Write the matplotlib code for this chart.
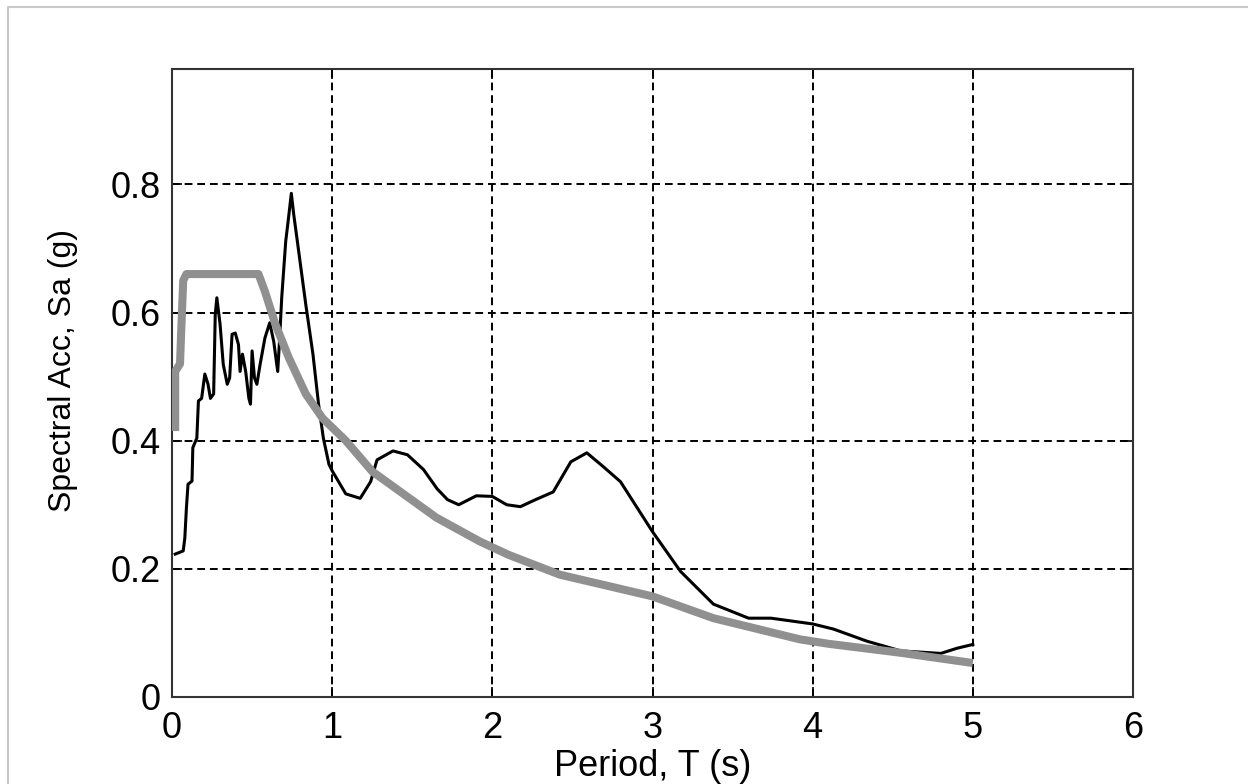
import matplotlib
matplotlib.use("Agg")
import matplotlib.pyplot as plt
from matplotlib.lines import Line2D

plt.rcParams['font.family'] = ['Liberation Sans', 'DejaVu Sans']

# recorded response spectrum (black)
t_rec = [0.02, 0.07, 0.08, 0.09, 0.10, 0.125, 0.13, 0.155, 0.165, 0.185, 0.205, 0.225,
         0.24, 0.26, 0.27, 0.28, 0.30, 0.32, 0.345, 0.36, 0.375, 0.395, 0.415, 0.425,
         0.44, 0.46, 0.48, 0.49, 0.50, 0.515, 0.53, 0.55, 0.58, 0.61, 0.635, 0.66,
         0.67, 0.685, 0.71, 0.73, 0.745, 0.76, 0.78, 0.835, 0.88, 0.915, 0.945, 0.98,
         1.0, 1.085, 1.175, 1.24, 1.28, 1.38, 1.47, 1.57, 1.655, 1.72, 1.79, 1.9,
         2.0, 2.09, 2.175, 2.27, 2.38, 2.49, 2.59, 2.69, 2.8, 3.0, 3.175, 3.38,
         3.6, 3.74, 4.0, 4.13, 4.34, 4.55, 4.8, 4.9, 5.0]
sa_rec = [0.223, 0.228, 0.248, 0.295, 0.332, 0.337, 0.389, 0.404, 0.462, 0.466, 0.504, 0.488,
          0.466, 0.473, 0.597, 0.623, 0.582, 0.519, 0.488, 0.498, 0.566, 0.568, 0.55, 0.508,
          0.535, 0.508, 0.466, 0.457, 0.54, 0.498, 0.488, 0.519, 0.56, 0.584, 0.555, 0.508,
          0.55, 0.623, 0.711, 0.753, 0.786, 0.753, 0.716, 0.613, 0.535, 0.457, 0.404, 0.363,
          0.353, 0.317, 0.31, 0.336, 0.37, 0.384, 0.378, 0.355, 0.325, 0.308, 0.30, 0.314,
          0.313, 0.30, 0.297, 0.308, 0.32, 0.367, 0.381, 0.36, 0.336, 0.258, 0.196, 0.145,
          0.123, 0.123, 0.114, 0.106, 0.087, 0.072, 0.068, 0.076, 0.082]

# design spectrum (grey)
t_des = [0.02, 0.02, 0.05, 0.06, 0.07, 0.09, 0.54, 0.58, 0.645, 0.73, 0.835, 0.94,
         1.085, 1.25, 1.65, 1.92, 2.1, 2.42, 3.0, 3.38, 3.92, 4.1, 4.55, 5.0]
sa_des = [0.415, 0.508, 0.52, 0.587, 0.65, 0.66, 0.66, 0.633, 0.582, 0.529, 0.473, 0.435,
          0.40, 0.352, 0.28, 0.243, 0.222, 0.191, 0.157, 0.123, 0.090, 0.083, 0.069, 0.053]

xticks = [0, 1, 2, 3, 4, 5, 6]
yticks = [0, 0.2, 0.4, 0.6, 0.8]
ytick_labels = ['0', '0.2', '0.4', '0.6', '0.8']

fig = plt.figure(figsize=(12.48, 7.84), dpi=100)
ax = fig.add_axes([172 / 1248, 1 - 697 / 784, (1133 - 172) / 1248, (697 - 69) / 784])

ax.plot(t_rec, sa_rec, color='black', lw=2.2, zorder=3)
ax.plot(t_des, sa_des, color='#909090', lw=5.8, solid_capstyle='butt', zorder=4)

ax.set_xlim(0, 6)
ax.set_ylim(0, 0.98)
ax.set_xticks(xticks)
ax.set_yticks(yticks)
ax.set_yticklabels(ytick_labels)
ax.grid(True, color='black', linestyle=(0, (4, 2.5)), linewidth=1.4)
ax.tick_params(direction='in', length=7, width=1.2, labelsize=26, pad=8,
               top=True, right=True)
ax.tick_params(axis='x', pad=10)
for s in ax.spines.values():
    s.set_linewidth(1.5)
    s.set_color('#333333')

ax.set_xlabel('Period, T (s)', fontsize=26, labelpad=2)
ax.set_ylabel('Spectral Acc, Sa (g)', fontsize=23)
ax.yaxis.set_label_coords(-0.098, 0.52)

# thin frame of the original page
fig.add_artist(Line2D([8 / 1248, 8 / 1248, 1], [0, 1 - 7 / 784, 1 - 7 / 784],
                      transform=fig.transFigure, color='#c8c8c8', lw=1.5))

fig.savefig('out.png', dpi=100, facecolor='white')
